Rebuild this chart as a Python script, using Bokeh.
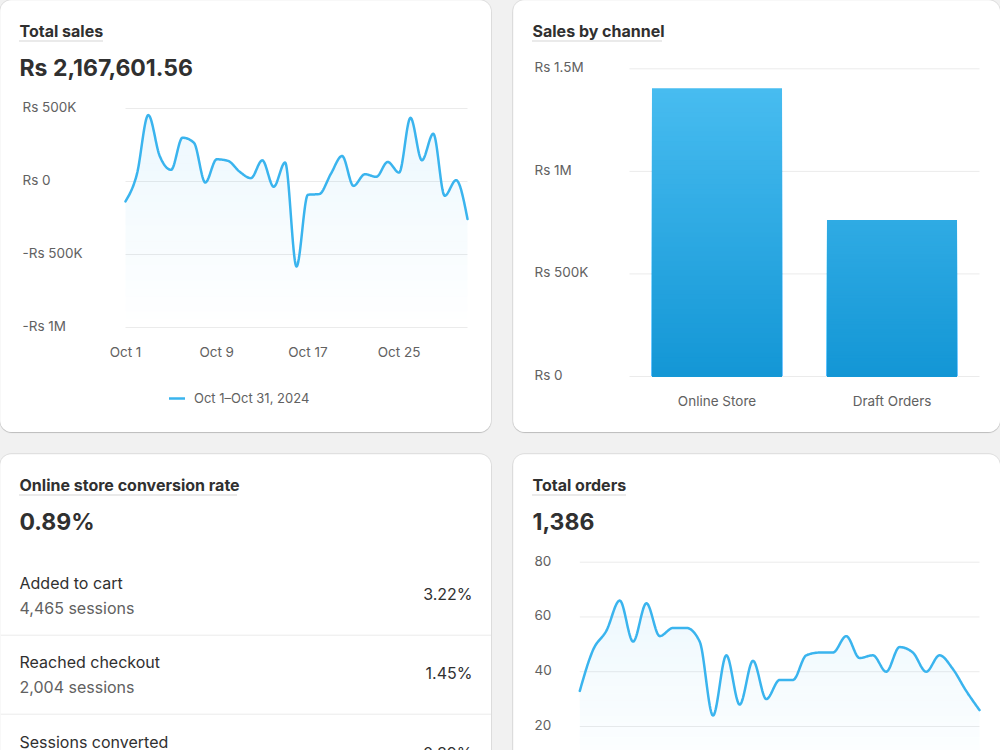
import numpy as np
from bokeh.plotting import figure
from bokeh.models import (Range1d, Label, Arrow, FixedTicker, Legend, LegendItem, LinearAxis)
from bokeh.layouts import row, column
from bokeh.embed import file_html
from bokeh.resources import INLINE

# ---------------------------------------------------------------- data
days = list(range(1, 32))
daily_sales = [-136000, 50000, 455000, 175000, 80000, 300000, 266000, -7000,
               152000, 141000, 68000, 23000, 145000, -36000, 130000, -582000,
               -91000, -86000, 50000, 175000, -30000, 50000, 32000, 134000,
               61000, 436000, 145000, 327000, -98000, 9000, -257000]
sales_ticks = [500000, 0, -500000, -1000000]
sales_tick_labels = ["Rs 500K", "Rs 0", "-Rs 500K", "-Rs 1M"]
date_ticks = [1, 9, 17, 25]
date_tick_labels = ["Oct 1", "Oct 9", "Oct 17", "Oct 25"]
period_label = "Oct 1\u2013Oct 31, 2024"

channels = ["Online Store", "Draft Orders"]
channel_sales = [1405001.56, 762600.00]
channel_ticks = [1500000, 1000000, 500000, 0]
channel_tick_labels = ["Rs 1.5M", "Rs 1M", "Rs 500K", "Rs 0"]

funnel_steps = ["Added to cart", "Reached checkout", "Sessions converted"]
funnel_sessions = [4465, 2004]
funnel_rates = [3.22, 1.45, 0.89]
conversion_rate = 0.89

daily_orders = [33, 48, 55, 66, 51, 65, 53, 56, 56, 51, 24, 46, 28, 44, 30, 37,
                37, 46, 47, 47, 53, 45, 46, 40, 49, 47, 40, 46, 41, 33, 26]
order_ticks = [80, 60, 40, 20]

# ---------------------------------------------------------------- style
FONT = "Inter"
INK = "#303030"
MUTED = "#616161"
BLUE = "#3AB4EE"
GRID_COLOR = "#EBEBEB"
DOTS = "#ABABAB"
PAGE_BG = "#F1F1F1"
GAP = 22
W1, W2, H1, H2 = 491, 487, 432, 296


def monotone_curve(xs, ys, per_seg=20):
    """Monotone cubic (Fritsch-Carlson style) path through the points."""
    x = np.asarray(xs, float)
    y = np.asarray(ys, float)
    n = len(x)
    h = np.diff(x)
    s = np.diff(y) / h
    t = np.zeros(n)
    for i in range(1, n - 1):
        p = (s[i - 1] * h[i] + s[i] * h[i - 1]) / (h[i - 1] + h[i])
        t[i] = (np.sign(s[i - 1]) + np.sign(s[i])) * min(abs(s[i - 1]), abs(s[i]), 0.5 * abs(p))
    t[0] = (3 * s[0] - t[1]) / 2
    t[-1] = (3 * s[-1] - t[-2]) / 2
    u = np.linspace(0, 1, per_seg, endpoint=False)
    px, py = [], []
    for i in range(n - 1):
        dx = h[i]
        x0, y0, x1, y1 = x[i], y[i], x[i + 1], y[i + 1]
        c0x, c0y = x0 + dx / 3, y0 + dx * t[i] / 3
        c1x, c1y = x1 - dx / 3, y1 - dx * t[i + 1] / 3
        b0, b1, b2, b3 = (1 - u) ** 3, 3 * u * (1 - u) ** 2, 3 * u ** 2 * (1 - u), u ** 3
        px.append(b0 * x0 + b1 * c0x + b2 * c1x + b3 * x1)
        py.append(b0 * y0 + b1 * c0y + b2 * c1y + b3 * y1)
    px.append([x[-1]])
    py.append([y[-1]])
    return np.concatenate(px), np.concatenate(py)


def scale_range(va, pa, vb, pb, p_start, p_end):
    """Range placing value va at pixel pa and vb at pb, for a frame running p_start -> p_end."""
    k = (pb - pa) / (vb - va)
    return Range1d(va + (p_start - pa) / k, va + (p_end - pa) / k)


def card(width, height, radius):
    # the frame fills the whole card: default ranges are card pixels (y downwards)
    p = figure(width=width, height=height, x_range=Range1d(0, width), y_range=Range1d(height, 0),
               min_border=0, x_axis_location=None, y_axis_location=None, title=None,
               toolbar_location=None, output_backend="svg",
               background_fill_color="white", border_fill_color="white",
               outline_line_color=None,
               styles={"border-radius": radius, "overflow": "hidden",
                       "box-shadow": "0 0 0 1px rgba(0,0,0,0.07), 0 1px 1px 0 rgba(0,0,0,0.16)"})
    for g in p.grid:
        g.visible = False
    return p


def text(p, x, y, s, size, color=INK, bold=False, align="left", y_range_name="default", lift=0):
    p.add_layout(Label(x=x, y=y, text=s, y_range_name=y_range_name, y_offset=lift,
                       text_font=FONT, text_font_size=size, text_color=color,
                       text_font_style="bold" if bold else "normal",
                       text_align=align, text_baseline="middle"))


def heading(p, title, title_w, headline=None):
    text(p, 19, 30, title, "16px", bold=True)
    p.add_layout(Arrow(x_start=19, y_start=40.5, x_end=19 + title_w, y_end=40.5,
                       start=None, end=None, line_color=DOTS, line_width=1, line_dash="1 1"))
    if headline:
        text(p, 19, 67, headline, "23px", bold=True)


def y_labels(p, x, ticks, labels, yname):
    for t, s in zip(ticks, labels):
        text(p, x, t, s, "13.5px", color=MUTED, y_range_name=yname, lift=1.5)


def h_grid(p, x0, x1, ticks, xname, yname):
    p.segment(x0=x0, x1=x1, y0=ticks, y1=ticks, x_range_name=xname, y_range_name=yname,
              line_color=GRID_COLOR, line_width=1)


def x_axis(p, xname, yname, loc, ticks, labels, standoff):
    ax = LinearAxis(x_range_name=xname, y_range_name=yname, fixed_location=loc,
                    ticker=FixedTicker(ticks=ticks),
                    major_label_overrides=dict(zip(ticks, labels)))
    ax.axis_line_color = None
    ax.major_tick_line_color = None
    ax.minor_tick_line_color = None
    ax.major_label_standoff = standoff
    ax.major_label_text_font = FONT
    ax.major_label_text_font_size = "13.5px"
    ax.major_label_text_color = MUTED
    p.add_layout(ax, "below")


def gradient_area(p, xs, ys, floor, ceil, alpha_top, xname, yname, bands=28):
    edges = np.linspace(floor, ceil, bands + 1)
    for k in range(bands):
        lo, hi = edges[k], edges[k + 1]
        upper = np.clip(ys, lo, hi)
        p.varea(x=xs, y1=np.full_like(upper, lo), y2=upper,
                x_range_name=xname, y_range_name=yname,
                fill_color=BLUE, fill_alpha=alpha_top * (k + 0.5) / bands)


def blend(c0, c1, f):
    a = [int(c0[i:i + 2], 16) for i in (1, 3, 5)]
    b = [int(c1[i:i + 2], 16) for i in (1, 3, 5)]
    f = min(max(f, 0.0), 1.0)
    return "#%02x%02x%02x" % tuple(round(a[i] + (b[i] - a[i]) * f) for i in range(3))


# ---------------------------------------------------------------- total sales
p1 = card(W1, H1, "12px")
p1.extra_x_ranges = {"days": scale_range(days[0], 125, days[-1], 467, 0, W1)}
p1.extra_y_ranges = {"sales": scale_range(500000, 108, -1000000, 327, H1, 0)}
h_grid(p1, days[0], days[-1], sales_ticks, "days", "sales")
sx, sy = monotone_curve(days, daily_sales)
gradient_area(p1, sx, sy, -1000000, 500000, 0.10, "days", "sales")
sales_line = p1.line(sx, sy, x_range_name="days", y_range_name="sales",
                     line_color=BLUE, line_width=2.5, line_join="round", line_cap="round")
x_axis(p1, "days", "sales", -1000000, date_ticks, date_tick_labels, 10)
heading(p1, "Total sales", 83, "Rs {:,.2f}".format(sum(channel_sales)))
y_labels(p1, 22, sales_ticks, sales_tick_labels, "sales")
legend = Legend(items=[LegendItem(label=period_label, renderers=[sales_line])],
                location=(169, 26), orientation="horizontal",
                padding=0, margin=0, spacing=0, glyph_width=16, glyph_height=16,
                label_height=16, label_standoff=9,
                border_line_color=None, background_fill_alpha=0,
                label_text_font=FONT, label_text_font_size="13px",
                label_text_color=MUTED)
p1.add_layout(legend)

# ---------------------------------------------------------------- sales by channel
# one unit-wide slot per channel, bar centred in its slot
slot_centers = [i + 0.5 for i in range(len(channels))]
p2 = card(W2, H1, "12px")
p2.extra_x_ranges = {"slots": scale_range(0, 629 - 513, len(channels), 979 - 513, 0, W2)}
p2.extra_y_ranges = {"amount": scale_range(1500000, 68.3, 0, 376, H1, 0)}
h_grid(p2, 0, len(channels), channel_ticks, "slots", "amount")
slices = 60
for c, v in zip(slot_centers, channel_sales):
    tops = v * (1 - np.arange(slices) / slices)
    colors = [blend("#1396D5", "#47BCF0", t / max(channel_sales)) for t in tops]
    p2.vbar(x=[c] * slices, top=tops, bottom=0, width=0.743,
            x_range_name="slots", y_range_name="amount",
            fill_color=colors, line_color=None)
x_axis(p2, "slots", "amount", 0, slot_centers, channels, 10)
heading(p2, "Sales by channel", 130)
y_labels(p2, 21, channel_ticks, channel_tick_labels, "amount")

# ---------------------------------------------------------------- conversion funnel
p3 = card(W1, H2, "12px 12px 0 0")
heading(p3, "Online store conversion rate", 218, "{:.2f}%".format(conversion_rate))
row_tops = [128.7, 207.7, 287.7]
for i, step in enumerate(funnel_steps):
    y0 = row_tops[i]
    text(p3, 19, y0, step, "16px")
    if i < len(funnel_sessions):
        text(p3, 19, y0 + 25, "{:,} sessions".format(funnel_sessions[i]), "16px", color=MUTED)
    text(p3, 472, y0 + 11, "{:.2f}%".format(funnel_rates[i]), "16px", align="right")
    if i < len(funnel_steps) - 1:
        p3.segment(x0=0, x1=W1, y0=y0 + 52, y1=y0 + 52, line_color=GRID_COLOR, line_width=1)

# ---------------------------------------------------------------- total orders
p4 = card(W2, H2, "12px 12px 0 0")
p4.extra_x_ranges = {"days": scale_range(days[0], 579.3 - 513, days[-1], 979 - 513, 0, W2)}
p4.extra_y_ranges = {"orders": scale_range(80, 107.7, 20, 272, H2, 0)}
h_grid(p4, days[0], days[-1], order_ticks, "days", "orders")
ox, oy = monotone_curve(days, daily_orders)
gradient_area(p4, ox, oy, 0, 75, 0.10, "days", "orders")
p4.line(ox, oy, x_range_name="days", y_range_name="orders",
        line_color=BLUE, line_width=2.5, line_join="round", line_cap="round")
heading(p4, "Total orders", 93, "{:,}".format(sum(daily_orders)))
y_labels(p4, 21, order_ticks, [str(t) for t in order_ticks], "orders")

layout = column(row(p1, p2, spacing=GAP), row(p3, p4, spacing=GAP), spacing=GAP,
                styles={"background-color": PAGE_BG})

open("out.html", "w").write(file_html(layout, INLINE))
